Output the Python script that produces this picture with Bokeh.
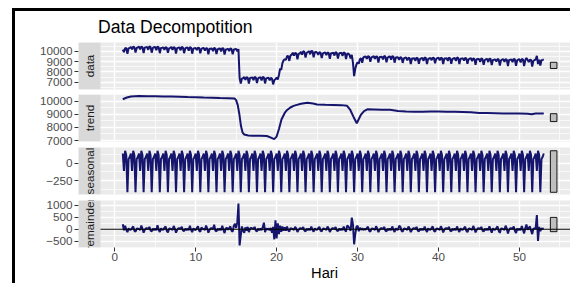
import numpy as np
from bokeh.plotting import figure
from bokeh.models import Range1d, FixedTicker, BoxAnnotation, Label, Span, Div, Spacer
from bokeh.layouts import column, row
from bokeh.embed import file_html
from bokeh.resources import INLINE

FONT = "Liberation Sans"
NAVY = "#15156E"

# ---------------- data (daily series, weekly frequency) ----------------
start = 1
frequency = 7

data = [
    10160, 9910, 10290, 10300, 9750, 10280, 10330,
    10400, 10180, 10430, 10390, 9880, 10310, 10370,
    10450, 10180, 10430, 10390, 9820, 10360, 10370,
    10410, 10140, 10470, 10400, 9860, 10320, 10390,
    10410, 10110, 10440, 10400, 9810, 10310, 10330,
    10360, 10140, 10390, 10350, 9840, 10270, 10330,
    10410, 10140, 10390, 10350, 9780, 10320, 10330,
    10360, 10090, 10420, 10350, 9810, 10270, 10340,
    10360, 10060, 10390, 10350, 9760, 10260, 10280,
    10320, 10100, 10350, 10310, 9800, 10230, 10290,
    10320, 10050, 10300, 10260, 9690, 10230, 10240,
    10270, 10000, 10330, 10260, 9720, 10180, 10250,
    10270, 9970, 10300, 10260, 9670, 10170, 10190,
    10230, 10010, 10260, 10220, 9710, 10140, 10200,
    10220, 9980, 10200, 7400, 6880, 7360, 7390,
    7500, 7230, 7480, 7440, 6870, 7410, 7420,
    7460, 7190, 7520, 7450, 6910, 7370, 7440,
    7480, 7180, 7510, 7470, 6880, 7380, 7400,
    7430, 7190, 7410, 7340, 6790, 7190, 7300,
    7450, 7250, 7700, 8300, 8200, 8850, 9100,
    9240, 9140, 9510, 9540, 9060, 9580, 9670,
    9850, 9580, 9830, 9790, 9220, 9760, 9770,
    9940, 9670, 10000, 9930, 9390, 9850, 9920,
    10000, 9700, 10030, 9990, 9400, 9900, 9920,
    9870, 9650, 9900, 9860, 9350, 9780, 9840,
    9890, 9620, 9870, 9830, 9260, 9800, 9810,
    9850, 9580, 9910, 9840, 9300, 9760, 9830,
    9850, 9550, 9880, 9840, 9250, 9750, 9770,
    9640, 9300, 9650, 8900, 7580, 8300, 8700,
    8940, 8790, 9230, 9320, 8880, 9410, 9460,
    9490, 9270, 9520, 9480, 8970, 9400, 9460,
    9520, 9250, 9500, 9460, 8890, 9430, 9440,
    9480, 9210, 9540, 9470, 8930, 9390, 9460,
    9490, 9190, 9520, 9480, 8890, 9390, 9410,
    9390, 9170, 9420, 9380, 8870, 9300, 9360,
    9380, 9110, 9360, 9320, 8750, 9290, 9300,
    9330, 9060, 9390, 9320, 8780, 9240, 9310,
    9360, 9060, 9390, 9350, 8760, 9260, 9280,
    9350, 9130, 9380, 9340, 8830, 9260, 9320,
    9380, 9110, 9360, 9320, 8750, 9290, 9300,
    9330, 9060, 9390, 9320, 8780, 9240, 9310,
    9360, 9060, 9390, 9350, 8760, 9260, 9280,
    9310, 9090, 9340, 9300, 8790, 9220, 9280,
    9320, 9050, 9300, 9260, 8690, 9230, 9240,
    9240, 8970, 9300, 9230, 8690, 9150, 9220,
    9250, 8950, 9280, 9240, 8650, 9150, 9170,
    9210, 8990, 9240, 9200, 8620, 9120, 9180,
    9240, 8970, 9220, 9180, 8560, 9150, 9160,
    9210, 8940, 9270, 9200, 8580, 9120, 9190,
    9220, 8920, 9250, 9210, 8560, 9120, 9340,
    9160, 8940, 9190, 9150, 8520, 9070, 9130,
    9200, 9550, 8750, 9180, 8600, 9130, 9160,
    9200,
]

seasonal = [
    140, -110, 180, 120, -420, 60, 90,
    140, -110, 180, 120, -420, 60, 90,
    140, -110, 180, 120, -420, 60, 90,
    140, -110, 180, 120, -420, 60, 90,
    140, -110, 180, 120, -420, 60, 90,
    140, -110, 180, 120, -420, 60, 90,
    140, -110, 180, 120, -420, 60, 90,
    140, -110, 180, 120, -420, 60, 90,
    140, -110, 180, 120, -420, 60, 90,
    140, -110, 180, 120, -420, 60, 90,
    140, -110, 180, 120, -420, 60, 90,
    140, -110, 180, 120, -420, 60, 90,
    140, -110, 180, 120, -420, 60, 90,
    140, -110, 180, 120, -420, 60, 90,
    140, -110, 180, 120, -420, 60, 90,
    140, -110, 180, 120, -420, 60, 90,
    140, -110, 180, 120, -420, 60, 90,
    140, -110, 180, 120, -420, 60, 90,
    140, -110, 180, 120, -420, 60, 90,
    140, -110, 180, 120, -420, 60, 90,
    140, -110, 180, 120, -420, 60, 90,
    140, -110, 180, 120, -420, 60, 90,
    140, -110, 180, 120, -420, 60, 90,
    140, -110, 180, 120, -420, 60, 90,
    140, -110, 180, 120, -420, 60, 90,
    140, -110, 180, 120, -420, 60, 90,
    140, -110, 180, 120, -420, 60, 90,
    140, -110, 180, 120, -420, 60, 90,
    140, -110, 180, 120, -420, 60, 90,
    140, -110, 180, 120, -420, 60, 90,
    140, -110, 180, 120, -420, 60, 90,
    140, -110, 180, 120, -420, 60, 90,
    140, -110, 180, 120, -420, 60, 90,
    140, -110, 180, 120, -420, 60, 90,
    140, -110, 180, 120, -420, 60, 90,
    140, -110, 180, 120, -420, 60, 90,
    140, -110, 180, 120, -420, 60, 90,
    140, -110, 180, 120, -420, 60, 90,
    140, -110, 180, 120, -420, 60, 90,
    140, -110, 180, 120, -420, 60, 90,
    140, -110, 180, 120, -420, 60, 90,
    140, -110, 180, 120, -420, 60, 90,
    140, -110, 180, 120, -420, 60, 90,
    140, -110, 180, 120, -420, 60, 90,
    140, -110, 180, 120, -420, 60, 90,
    140, -110, 180, 120, -420, 60, 90,
    140, -110, 180, 120, -420, 60, 90,
    140, -110, 180, 120, -420, 60, 90,
    140, -110, 180, 120, -420, 60, 90,
    140, -110, 180, 120, -420, 60, 90,
    140, -110, 180, 120, -420, 60, 90,
    140, -110, 180, 120, -420, 60, 90,
    140,
]

remainder = [
    210, -40, 150, -20, -120, 40, -10,
    -20, 50, 120, -60, -100, 20, 30,
    10, -30, 160, 30, -140, -20, 40,
    40, 20, 100, -50, -90, 30, -30,
    30, -40, 170, -20, -110, 40, -10,
    -20, 60, 120, -60, -130, 20, 30,
    10, -30, 140, 30, -140, -20, 40,
    40, 20, 110, -50, -80, 30, -30,
    30, -40, 150, -20, -120, 40, -10,
    -30, 50, 130, -60, -100, 80, 30,
    10, -30, 160, 30, -140, -20, 40,
    40, 20, 190, -50, -90, 30, -30,
    30, -40, 150, -20, -160, 40, 60,
    -20, 50, 120, -60, -100, 150, 230,
    60, 300, 1080, -680, -250, 120, -60,
    -150, 80, -60, 100, -120, 30, 60,
    40, 20, 100, -50, -90, 30, -30,
    30, -40, 80, 280, -120, 40, -10,
    30, -40, 60, -150, 100, -420, 380,
    -380, 250, -200, 150, -100, 120, -60,
    80, -60, 120, -40, -90, 50, 20,
    10, -30, 100, 30, -110, -20, 40,
    40, 20, 90, -50, -90, 30, -30,
    30, -40, 110, -20, -100, 40, -10,
    -20, 50, 100, -60, -90, 20, 30,
    10, -30, 120, 30, -110, -20, 40,
    40, 20, 90, -50, -80, 30, -30,
    30, -40, 110, -20, -100, 150, 120,
    40, -60, 490, 200, -630, -200, 100,
    150, -80, 60, -20, 40, -30, 20,
    -20, 50, 110, -60, -100, 20, 30,
    10, -30, 130, 30, -120, -20, 40,
    40, 20, 100, -50, -90, 30, -30,
    30, -40, 120, -20, -110, 40, -10,
    -20, 150, 110, -60, -100, 20, 30,
    10, -30, 120, 30, -120, -20, 40,
    40, 20, 100, -50, -90, 30, -30,
    30, -40, 110, -20, -110, 40, -10,
    -20, 50, 120, -60, -100, 20, 30,
    10, -30, 130, 30, -130, -20, 40,
    40, 20, 100, -50, -90, 30, -30,
    30, -40, 120, -20, -110, 40, -10,
    -20, 50, 110, -60, -120, 20, 30,
    10, -30, 140, 30, -130, -20, 40,
    40, 20, 100, -50, -100, 30, -30,
    30, -40, 130, -20, -140, 40, -10,
    -20, 50, 120, -60, -150, 20, 30,
    10, -30, 150, 30, -180, -20, 40,
    40, 20, 120, -50, -160, 30, -30,
    30, -40, 140, -20, -170, 40, 200,
    -20, 50, 120, -60, -200, 20, 30,
    40, 600, -490, 100, -80, 30, 20,
    40,
]

trend_t = [1.0, 1.5, 2.0, 3.0, 4.0, 5.0, 6.0, 7.0, 8.0, 9.0, 10.0, 11.0, 12.0, 13.0,
           14.0, 14.8, 15.0, 15.2, 15.4, 15.6, 15.8, 16.0, 16.5, 17.0, 18.0, 18.8,
           19.3, 19.7, 20.0, 20.3, 20.6, 21.0, 21.3, 21.7, 22.1, 22.5, 23.0, 23.8,
           24.5, 25.0, 26.0, 27.0, 28.0, 28.7, 29.1, 29.5, 29.9, 30.2, 30.4, 30.8,
           31.2, 32.0, 33.0, 34.0, 35.0, 36.0, 37.0, 38.0, 39.0, 40.0, 41.0, 42.0,
           43.0, 44.0, 45.0, 46.0, 47.0, 48.0, 49.0, 50.0, 51.0, 51.5, 52.0, 52.5, 53.0]
trend = [10150, 10280, 10360, 10390, 10380, 10370, 10350, 10360, 10340, 10320, 10310,
         10280, 10260, 10240, 10230, 10200, 10080, 9700, 9000, 8100, 7600, 7460, 7380,
         7360, 7360, 7340, 7220, 7100, 7300, 7900, 8600, 9100, 9330, 9520, 9640, 9720,
         9800, 9880, 9820, 9750, 9720, 9710, 9700, 9650, 9330, 8800, 8320, 8700, 8950,
         9250, 9380, 9370, 9350, 9340, 9260, 9210, 9190, 9200, 9220, 9210, 9190, 9200,
         9180, 9150, 9100, 9090, 9080, 9070, 9070, 9060, 9040, 9010, 9060, 9070, 9060]

panel_names = ["data", "trend", "seasonal", "remainder"]
x_ticks = [0, 10, 20, 30, 40, 50]
x_minor_ticks = [5, 15, 25, 35, 45, 55]
y_ticks = {
    "data": [7000, 8000, 9000, 10000],
    "trend": [7000, 8000, 9000, 10000],
    "seasonal": [-250, 0],
    "remainder": [-500, 0, 500, 1000],
}
y_minor_ticks = {
    "data": [6500, 7500, 8500, 9500, 10500],
    "trend": [7500, 8500, 9500, 10500],
    "seasonal": [-375, -125, 125],
    "remainder": [-750, -250, 250, 750],
}
y_limits = {
    "data": (6293, 10842),
    "trend": (6924, 10511),
    "seasonal": (-452, 227),
    "remainder": (-765, 1210),
}
title_text = "Data Decompotition"
x_label = "Hari"

X_START, X_END = -4.471, 56.30   # frame includes the strip on the left
STRIP_RIGHT = -1.754
STRIP_MID = -3.113

t = start + np.arange(len(data)) / frequency
series = {
    "data": (t, data),
    "trend": (trend_t, trend),
    "seasonal": (t, seasonal),
    "remainder": (t, remainder),
}

# range bars (as in forecast::autoplot for decompositions)
barwidth = (t[-1] - t[0]) / 64
bar_left = t[-1] + barwidth
bar_right = t[-1] + 2 * barwidth
ranges = {k: (min(v[1]), max(v[1])) for k, v in series.items()}
barlength = min(hi - lo for lo, hi in ranges.values())

FIG_W = 555
TITLE_H = 26
layout_spec = {
    # name: (height, border_top, border_bottom)
    "data": (80 - TITLE_H, 31 - TITLE_H, 2),
    "trend": (56, 3, 6),
    "seasonal": (50, 0, 3),
    "remainder": (86, 3, 36),
}


def make_panel(name):
    height, btop, bbot = layout_spec[name]
    lo, hi = y_limits[name]
    show_x = name == "remainder"
    p = figure(width=FIG_W, height=height,
               x_range=Range1d(X_START, X_END), y_range=Range1d(lo, hi),
               output_backend="svg", toolbar_location=None,
               x_axis_location="below" if show_x else None,
               min_border_left=63, min_border_right=0,
               min_border_top=btop, min_border_bottom=bbot,
               background_fill_color="#EBEBEB", border_fill_color="white",
               outline_line_color=None, margin=0)

    xt = FixedTicker(ticks=x_ticks, minor_ticks=x_minor_ticks)
    yt = FixedTicker(ticks=y_ticks[name], minor_ticks=y_minor_ticks[name])
    p.xgrid.ticker = xt
    p.ygrid.ticker = yt
    for g in (p.xgrid, p.ygrid):
        g.grid_line_color = "white"
        g.grid_line_width = 1.4
        g.minor_grid_line_color = "white"
        g.minor_grid_line_width = 0.7

    p.yaxis.ticker = yt
    p.yaxis.axis_line_color = None
    p.yaxis.major_tick_line_color = "#333333"
    p.yaxis.major_tick_out = 4
    p.yaxis.major_tick_in = 0
    p.yaxis.minor_tick_line_color = None
    p.yaxis.major_label_text_font = FONT
    p.yaxis.major_label_text_font_size = "11.7px"
    p.yaxis.major_label_text_color = "#4D4D4D"
    p.yaxis.major_label_standoff = 2

    if show_x:
        p.xaxis.ticker = xt
        p.xaxis.axis_line_color = None
        p.xaxis.major_tick_line_color = "#333333"
        p.xaxis.major_tick_out = 4
        p.xaxis.major_tick_in = 0
        p.xaxis.minor_tick_line_color = None
        p.xaxis.major_label_text_font = FONT
        p.xaxis.major_label_text_font_size = "11.7px"
        p.xaxis.major_label_text_color = "#4D4D4D"
        p.xaxis.major_label_standoff = 1
        p.xaxis.axis_label = x_label
        p.xaxis.axis_label_text_font = FONT
        p.xaxis.axis_label_text_font_size = "14.7px"
        p.xaxis.axis_label_text_font_style = "normal"
        p.xaxis.axis_label_text_color = "black"
        p.xaxis.axis_label_standoff = 1

    xs, ys = series[name]
    p.line(xs, ys, line_color=NAVY, line_width=2)

    rlo, rhi = ranges[name]
    mid = (rlo + rhi) / 2
    p.quad(left=[bar_left], right=[bar_right],
           bottom=[mid - barlength / 2], top=[mid + barlength / 2],
           fill_color="#BFBFBF", line_color="black", line_width=0.9)

    if name == "remainder":
        p.add_layout(Span(location=0, dimension="width", line_color="black", line_width=1.1))

    p.add_layout(BoxAnnotation(left=X_START, right=STRIP_RIGHT, bottom=lo, top=hi,
                               fill_color="#D9D9D9", fill_alpha=1.0, line_color=None))
    p.add_layout(Label(x=STRIP_MID, y=(lo + hi) / 2, text=name, angle=np.pi / 2,
                       text_align="center", text_baseline="middle",
                       text_font=FONT, text_font_size="11.7px", text_color="#1A1A1A"))
    return p


figs = [make_panel(n) for n in panel_names]

title_div = Div(text='<div style="padding-top:4px;white-space:nowrap">%s</div>' % title_text,
                width=FIG_W - 83, height=TITLE_H, margin=0,
                styles={"font-family": FONT, "font-size": "17.6px", "color": "black"})
title_row = row(Spacer(width=83, height=TITLE_H, margin=0), title_div, margin=0)

top_bar = row(Spacer(width=4, height=3, margin=0),
              Div(width=FIG_W + 3, height=3, margin=0, styles={"background-color": "black"}),
              margin=0)
body = row(Spacer(width=4, height=272, margin=0),
           Div(width=3, height=272, margin=0, styles={"background-color": "black"}),
           column(title_row, *figs, margin=0),
           margin=0)
page = column(top_bar, body, margin=(8, 0, 0, 8))

open("out.html", "w").write(file_html(page, INLINE))
